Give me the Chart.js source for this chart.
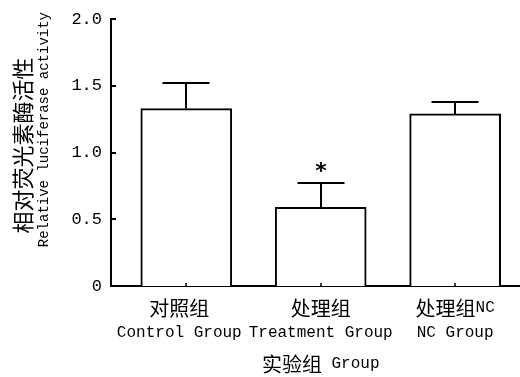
<!DOCTYPE html>
<html>
<head>
<meta charset="utf-8">
<script src="https://cdn.jsdelivr.net/npm/chart.js@4/dist/chart.umd.min.js"></script>
<style>
  html, body { margin: 0; padding: 0; background: #fff; }
  #wrap { width: 520px; height: 377px; }
</style>
</head>
<body>
<div id="wrap"><canvas id="c" width="520" height="377"></canvas></div>
<script>
// Group labels (Chinese / English), means and standard errors
const categories = ['对照组', '处理组', '处理组NC'];
const categoriesEn = ['Control Group', 'Treatment Group', 'NC Group'];
const means = [1.33, 0.59, 1.29];
const errors = [0.19, 0.18, 0.09];
const marks = ['', '*', ''];
const yTicks = [0, 0.5, 1.0, 1.5, 2.0];
const xTitle = '实验组 Group';
const yTitle = ['相对荧光素酶活性', 'Relative luciferase activity'];

const CJK_FONT = '"Noto Sans CJK SC"';
const LATIN_FONT = '"Liberation Mono"';

// Draw a string whose CJK runs and Latin runs use different fonts, centred at (cx, cy)
function drawMixed(ctx, text, cx, cy, cjkSize, latinSize) {
  const runs = text.match(/[\u3000-\u9fff\uff00-\uffef]+|[^\u3000-\u9fff\uff00-\uffef]+/g) || [];
  const parts = runs.map(r => {
    const isCjk = /[\u3000-\u9fff\uff00-\uffef]/.test(r);
    const font = isCjk ? `${cjkSize}px ${CJK_FONT}` : `${latinSize}px ${LATIN_FONT}`;
    ctx.font = font;
    return { r, font, w: ctx.measureText(r).width };
  });
  const total = parts.reduce((s, p) => s + p.w, 0);
  let x = cx - total / 2;
  ctx.textAlign = 'left';
  ctx.textBaseline = 'middle';
  parts.forEach(p => {
    ctx.font = p.font;
    ctx.fillText(p.r, x, cy);
    x += p.w;
  });
}

const decorations = {
  id: 'decorations',
  afterDatasetsDraw(chart) {
    const { ctx, chartArea, scales } = chart;
    const xs = scales.x, ys = scales.y;
    ctx.save();
    ctx.strokeStyle = '#000';
    ctx.fillStyle = '#000';

    // inward y ticks
    ctx.lineWidth = 2;
    yTicks.forEach(v => {
      const py = Math.round(ys.getPixelForValue(v));
      ctx.beginPath();
      ctx.moveTo(chartArea.left, py);
      ctx.lineTo(chartArea.left + 5, py);
      ctx.stroke();
    });

    // small upward ticks at group centres
    ctx.lineWidth = 1.5;
    categories.forEach((c, i) => {
      const px = Math.round(xs.getPixelForValue(i));
      ctx.beginPath();
      ctx.moveTo(px, chartArea.bottom);
      ctx.lineTo(px, chartArea.bottom - 3);
      ctx.stroke();
    });

    // error bars (upper half only) and significance marks
    ctx.lineWidth = 2;
    const capHalf = 23.5;
    means.forEach((m, i) => {
      const px = Math.round(xs.getPixelForValue(i));
      const y0 = ys.getPixelForValue(m);
      const y1 = Math.round(ys.getPixelForValue(m + errors[i]));
      ctx.beginPath();
      ctx.moveTo(px, y0);
      ctx.lineTo(px, y1);
      ctx.moveTo(px - capHalf, y1);
      ctx.lineTo(px + capHalf, y1);
      ctx.stroke();
      if (marks[i]) {
        ctx.font = 'bold 22px "DejaVu Sans"';
        ctx.textAlign = 'center';
        ctx.textBaseline = 'alphabetic';
        const mt = ctx.measureText(marks[i]);
        const centre = y1 - 16;
        const base = centre + (mt.actualBoundingBoxAscent - mt.actualBoundingBoxDescent) / 2;
        ctx.fillText(marks[i], px, base);
      }
    });

    // category labels (the first one nudged left to keep clear of its neighbour) and x title
    const nudge = [-7, 0, 0];
    categories.forEach((c, i) => {
      const px = xs.getPixelForValue(i) + nudge[i];
      drawMixed(ctx, c, px, chartArea.bottom + 22, 20, 16);
      drawMixed(ctx, categoriesEn[i], px, chartArea.bottom + 47, 20, 16);
    });
    drawMixed(ctx, xTitle, (xs.getPixelForValue(0) + xs.getPixelForValue(2)) / 2, chartArea.bottom + 78, 20, 16);

    // y title, two rotated lines
    const mid = (chartArea.top + chartArea.bottom) / 2;
    ctx.save();
    ctx.translate(23, mid - 7);
    ctx.rotate(-Math.PI / 2);
    drawMixed(ctx, yTitle[0], 0, 0, 22, 14);
    ctx.restore();
    ctx.save();
    ctx.translate(44, mid - 23);
    ctx.rotate(-Math.PI / 2);
    drawMixed(ctx, yTitle[1], 0, 0, 22, 14);
    ctx.restore();

    ctx.restore();
  }
};

new Chart(document.getElementById('c'), {
  type: 'bar',
  data: {
    datasets: [{
      data: means.map((m, i) => ({ x: i, y: m })),
      backgroundColor: '#ffffff',
      borderColor: '#000000',
      borderWidth: 2,
      barThickness: 91
    }]
  },
  options: {
    responsive: false,
    animation: false,
    devicePixelRatio: 1,
    layout: { padding: { top: 18, right: 1, left: 0, bottom: 0 } },
    plugins: { legend: { display: false }, tooltip: { enabled: false } },
    scales: {
      x: {
        type: 'linear',
        offset: false,
        min: -0.56,
        max: 2.475,
        afterBuildTicks(scale) { scale.ticks = categories.map((c, i) => ({ value: i })); },
        afterFit(scale) { scale.height = 91; },
        grid: { display: false, drawTicks: false, offset: false },
        border: { display: true, color: '#000', width: 2 },
        ticks: { display: false }
      },
      y: {
        min: 0,
        max: 2.0,
        afterBuildTicks(scale) { scale.ticks = yTicks.map(v => ({ value: v })); },
        afterFit(scale) { scale.width = 111; },
        grid: { display: false, drawTicks: false },
        border: { display: true, color: '#000', width: 2 },
        ticks: {
          padding: 9,
          color: '#000',
          font: { family: 'Liberation Mono', size: 17 },
          callback: v => (v === 0 ? '0' : v.toFixed(1))
        }
      }
    }
  },
  plugins: [decorations]
});
</script>
</body>
</html>
